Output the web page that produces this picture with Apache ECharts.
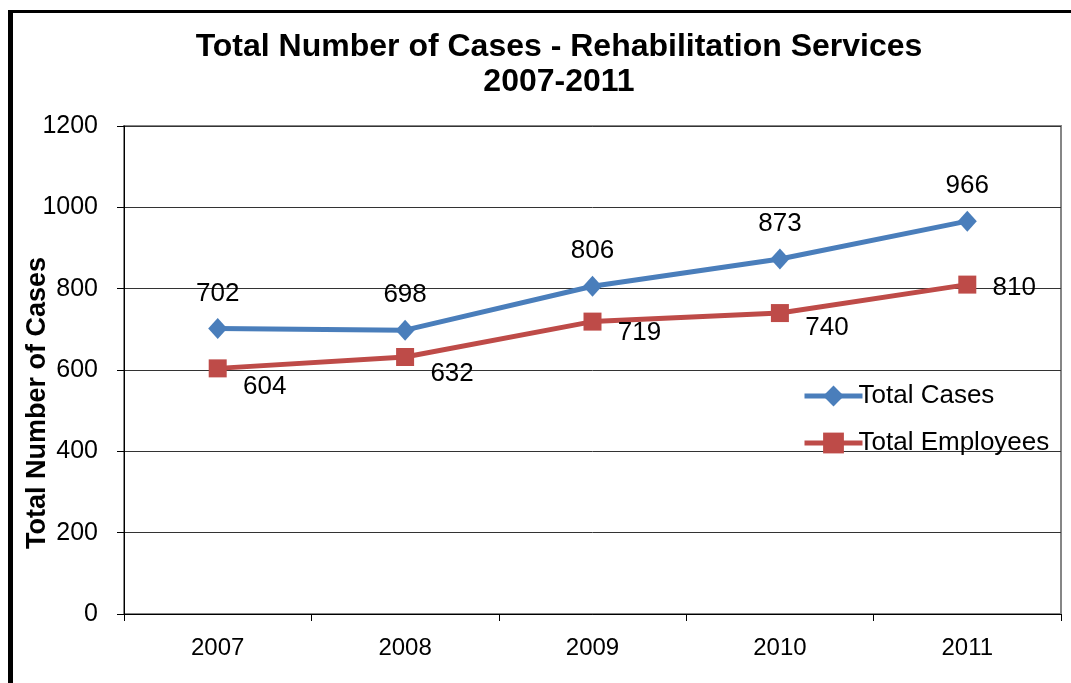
<!DOCTYPE html>
<html>
<head>
<meta charset="utf-8">
<script src="https://cdn.jsdelivr.net/npm/echarts@6/dist/echarts.min.js"></script>
<style>
html,body{margin:0;padding:0;background:#fff;}
#chart{width:1071px;height:683px;}
</style>
</head>
<body>
<div id="chart"></div>
<script>
const categories = ['2007', '2008', '2009', '2010', '2011'];
const totalCases = [702, 698, 806, 873, 966];
const totalEmployees = [604, 632, 719, 740, 810];
const yTicks = { min: 0, max: 1200, interval: 200 };
const yAxisTitle = 'Total Number of Cases';

// label placement (styling only)
const casesLabelOffset = [0, -35];
const employeesLabelDx = 47;
const employeesLabelDy = [18, 17, 11, 15, 3];

const chart = echarts.init(document.getElementById('chart'), null, { renderer: 'canvas' });
const font = 'Liberation Sans, Arial, sans-serif';

const option = {
  backgroundColor: '#fff',
  animation: false,
  textStyle: { fontFamily: font },
  title: {
    text: 'Total Number of Cases - Rehabilitation Services\n2007-2011',
    left: 554,
    textAlign: 'center',
    top: 25,
    textStyle: { fontFamily: font, fontSize: 32, fontWeight: 'bold', color: '#000', lineHeight: 35 }
  },
  graphic: [
    { type: 'rect', shape: { x: 8, y: 10, width: 5, height: 683 }, style: { fill: '#000' }, z: 100 },
    { type: 'rect', shape: { x: 8, y: 10, width: 1071, height: 3 }, style: { fill: '#000' }, z: 100 },
    {
      type: 'text', x: 38, y: 403, rotation: Math.PI / 2,
      style: {
        text: yAxisTitle, fontFamily: font, fontSize: 27, fontWeight: 'bold', fill: '#000',
        align: 'center', verticalAlign: 'middle'
      },
      z: 100
    }
  ],
  grid: {
    left: 124, top: 126, right: 10, bottom: 69,
    show: true, borderColor: '#868686', borderWidth: 2, backgroundColor: 'transparent'
  },
  legend: {
    orient: 'vertical',
    left: 797,
    top: 378,
    itemWidth: 58,
    itemHeight: 26,
    itemGap: 21,
    lineStyle: { width: 5 },
    textStyle: { fontFamily: font, fontSize: 26, color: '#000', lineHeight: 26, padding: [0, 0, 0, -9] },
    data: ['Total Cases', 'Total Employees']
  },
  xAxis: {
    type: 'category',
    data: categories,
    boundaryGap: true,
    axisLine: { lineStyle: { color: '#000', width: 1 } },
    axisTick: { show: true, length: 7, lineStyle: { color: '#000' } },
    axisLabel: { fontFamily: font, fontSize: 24, color: '#000', margin: 22 },
    splitLine: { show: false }
  },
  yAxis: {
    type: 'value',
    min: yTicks.min,
    max: yTicks.max,
    interval: yTicks.interval,
    axisLine: { show: true, lineStyle: { color: '#000', width: 1 } },
    axisTick: { show: true, length: 7, lineStyle: { color: '#000' } },
    axisLabel: { fontFamily: font, fontSize: 25, color: '#000', margin: 26, formatter: (v) => String(v) },
    splitLine: { show: true, lineStyle: { color: '#333', width: 1 } }
  },
  series: [
    {
      name: 'Total Cases',
      type: 'line',
      data: totalCases,
      symbol: 'diamond',
      symbolSize: [19, 21],
      itemStyle: { color: '#4A7EBB' },
      lineStyle: { color: '#4A7EBB', width: 5 },
      label: {
        show: true,
        position: 'inside',
        offset: casesLabelOffset,
        fontFamily: font,
        fontSize: 26,
        color: '#000'
      },
      z: 3
    },
    {
      name: 'Total Employees',
      type: 'line',
      data: totalEmployees.map((v, i) => ({
        value: v,
        label: { offset: [employeesLabelDx, employeesLabelDy[i]] }
      })),
      symbol: 'rect',
      symbolSize: 18,
      itemStyle: { color: '#BE4B48' },
      lineStyle: { color: '#BE4B48', width: 5 },
      label: {
        show: true,
        position: 'inside',
        fontFamily: font,
        fontSize: 26,
        color: '#000'
      },
      z: 2
    }
  ]
};
chart.setOption(option);
</script>
</body>
</html>
